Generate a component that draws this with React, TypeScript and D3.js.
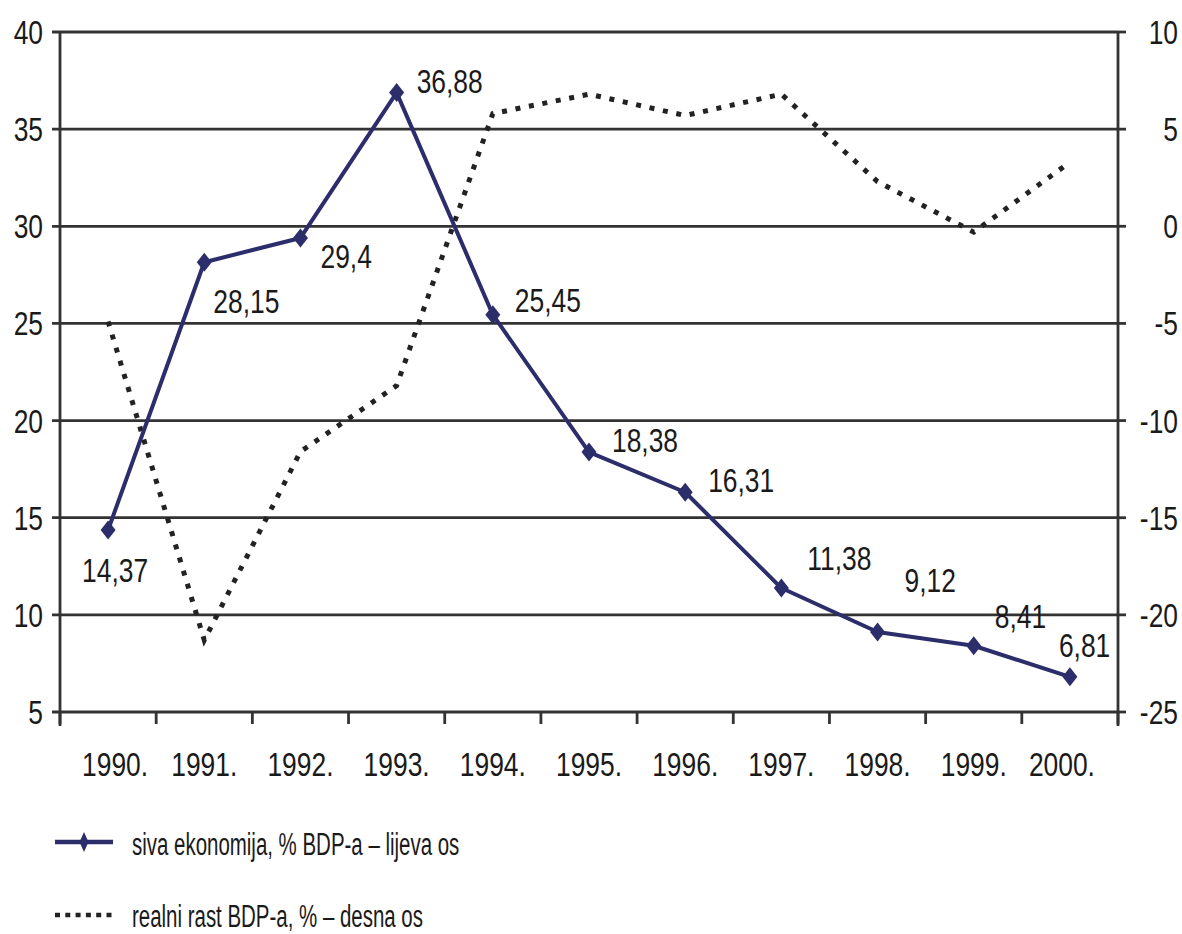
import React from 'react';
import * as d3 from 'd3';

// data
const years = ['1990.', '1991.', '1992.', '1993.', '1994.', '1995.', '1996.', '1997.', '1998.', '1999.', '2000.'];
const sivaEkonomija = [14.37, 28.15, 29.4, 36.88, 25.45, 18.38, 16.31, 11.38, 9.12, 8.41, 6.81];
const sivaLabels = ['14,37', '28,15', '29,4', '36,88', '25,45', '18,38', '16,31', '11,38', '9,12', '8,41', '6,81'];
const realniRast = [-4.9, -21.3, -11.6, -8.2, 5.8, 6.8, 5.7, 6.8, 2.3, -0.3, 3.3];
const leftTicks = [5, 10, 15, 20, 25, 30, 35, 40];
const rightTicks = [-25, -20, -15, -10, -5, 0, 5, 10];
const legendLabels = ['siva ekonomija, % BDP-a – lijeva os', 'realni rast BDP-a, % – desna os'];

// label placement relative to its point (layout only)
const labelOffsets = [[-26, 52], [9, 51], [20, 30], [20, 0], [22, -3], [23, 0], [23, 0], [26, -18], [27, -40], [21, -18], [-11, -20]];
const xLabelNudge = [7, 0, 0, 0, 0, 0, 0, 0, 0, 0, -8];

const W = 1182;
const H = 934;
const left = 60;
const right = 1118;
const top = 32;
const bottom = 712;

const navy = '#2c2d6b';
const ink = '#1a1a1a';
const grid = '#333';
const font = 'Liberation Sans, Arial, sans-serif';
const sx = 0.8; // the source type is condensed

const diamond = (cx: number, cy: number, hw: number, hh: number) =>
    `M${cx},${cy - hh}L${cx + hw},${cy}L${cx},${cy + hh}L${cx - hw},${cy}Z`;

const App = () => {
    const x = d3.scaleBand().domain(years).range([left, right]);
    const cx = (i: number) => x(years[i])! + x.bandwidth() / 2;
    const yL = d3.scaleLinear().domain([5, 40]).range([bottom, top]);
    const yR = d3.scaleLinear().domain([-25, 10]).range([bottom, top]);

    const sivaLine = d3.line<number>().x((d, i) => cx(i)).y(d => yL(d))(sivaEkonomija)!;
    const rastLine = d3.line<number>().x((d, i) => cx(i)).y(d => yR(d))(realniRast)!;

    const boundaries = years.map(y => x(y)!).concat([right]);

    return (
        <svg width={W} height={H} style={{ position: 'absolute', left: 0, top: 0, background: '#fff' }}
            fontFamily={font} fill={ink}>
            {/* gridlines + ticks */}
            {leftTicks.map(t => (
                <g key={'l' + t}>
                    <line x1={left - 8} x2={right} y1={yL(t)} y2={yL(t)} stroke={grid} strokeWidth={2.8} />
                    <text transform={`translate(${43},${yL(t) + 12}) scale(${sx},1)`} textAnchor="end" fontSize={33}>{t}</text>
                </g>
            ))}
            {rightTicks.map(t => (
                <g key={'r' + t}>
                    <line x1={right} x2={right + 8} y1={yR(t)} y2={yR(t)} stroke={grid} strokeWidth={2.8} />
                    <text transform={`translate(${1178},${yR(t) + 12}) scale(${sx},1)`} textAnchor="end" fontSize={33}>{t}</text>
                </g>
            ))}
            <line x1={left} x2={left} y1={top} y2={bottom + 14} stroke={grid} strokeWidth={2.8} />
            <line x1={right} x2={right} y1={top} y2={bottom + 14} stroke={grid} strokeWidth={2.8} />
            {boundaries.map((b, i) => (
                <line key={'b' + i} x1={b} x2={b} y1={bottom} y2={bottom + 12} stroke={grid} strokeWidth={2.8} />
            ))}
            {years.map((y, i) => (
                <text key={y} transform={`translate(${cx(i) + xLabelNudge[i]},${776}) scale(${sx},1)`}
                    textAnchor="middle" fontSize={33}>{y}</text>
            ))}

            {/* realni rast, right axis */}
            <path d={rastLine} fill="none" stroke="#222" strokeWidth={5} strokeDasharray="5,8.7" />

            {/* siva ekonomija, left axis */}
            <path d={sivaLine} fill="none" stroke={navy} strokeWidth={4} strokeLinejoin="round" />
            {sivaEkonomija.map((v, i) => (
                <path key={'m' + i} d={diamond(cx(i), yL(v), 7.5, 9.5)} fill={navy} />
            ))}
            {sivaEkonomija.map((v, i) => (
                <text key={'t' + i}
                    transform={`translate(${cx(i) + labelOffsets[i][0]},${yL(v) + labelOffsets[i][1]}) scale(${sx},1)`}
                    fontSize={33}>{sivaLabels[i]}</text>
            ))}

            {/* legend */}
            <line x1={55} x2={113} y1={842} y2={842} stroke={navy} strokeWidth={4.5} />
            <path d={diamond(84, 842, 4.5, 10)} fill={navy} />
            <text transform={`translate(132,855) scale(0.66,1)`} fontSize={31}>{legendLabels[0]}</text>
            <line x1={55} x2={112} y1={915} y2={915} stroke="#222" strokeWidth={4.5} strokeDasharray="5,5.3" />
            <text transform={`translate(132,927) scale(0.66,1)`} fontSize={31}>{legendLabels[1]}</text>
        </svg>
    );
};

export default App;
